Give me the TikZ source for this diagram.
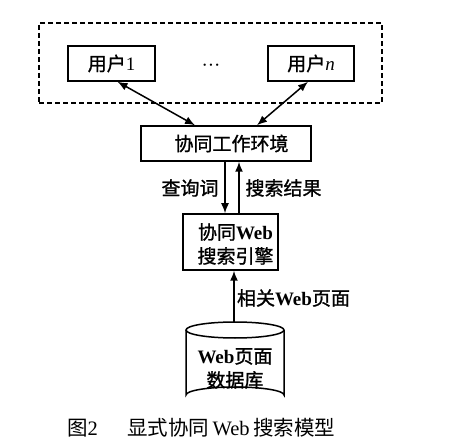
\documentclass[tikz,border=0pt]{standalone}
\usepackage{fontspec}
\setmainfont{Liberation Serif}
\newfontfamily\cjk{Noto Sans CJK SC}
\newfontfamily\cjkb[FakeBold=1.2]{Noto Sans CJK SC}
\newcommand{\zh}[1]{{\cjkb #1}}
\newcommand{\zhc}[1]{{\cjk #1}}
\usetikzlibrary{arrows.meta}
\begin{document}
\begin{tikzpicture}[x=1pt,y=-1pt,
  box/.style={draw,line width=1.5pt,inner sep=0pt},
  lab/.style={font=\fontsize{19pt}{24pt}\selectfont,inner sep=0pt,align=center},
  arr/.style={line width=1.5pt,-{Latex[length=10pt,width=8pt]}},
  darr/.style={line width=1.5pt,{Latex[length=10pt,width=8pt]}-{Latex[length=10pt,width=8pt]}}]
\useasboundingbox (0,0) rectangle (452,443);
% group
\node[draw,line width=1.4pt,dash pattern=on 5pt off 3pt,minimum width=343pt,minimum height=80pt,inner sep=0pt] (grp) at (210.5,63) {};
\node[box,lab,minimum width=87pt,minimum height=35pt] (u1) at (111.5,63.5) {\zh{用户}1};
\node[box,lab,minimum width=86pt,minimum height=35pt] (un) at (311,63.5) {\zh{用户}\textit{n}};
\node[lab,anchor=base] (dots) at (211,72) {\textperiodcentered\textperiodcentered\textperiodcentered};
\node[box,lab,minimum width=170pt,minimum height=35pt] (env) at (226,143.5) {\hspace*{11pt}\zh{协同工作环境}};
\node[box,minimum width=95pt,minimum height=56pt] (eng) at (230.5,242) {};
\node[lab] (engtxt) at (235.5,244) {\zh{协同}\textbf{Web}\\\zh{搜索引擎}};
% database cylinder
\coordinate (dbtop) at (235,322);
\draw[line width=1.5pt,fill=white] (186,330) -- (186,395) arc[start angle=180,end angle=360,x radius=49,y radius=8] -- (284,330);
\draw[line width=1.5pt] (235,330) ellipse[x radius=49,y radius=8];
\node[lab] (db) at (235,368.5) {\textbf{Web}\zh{页面}\\\zh{数据库}};
% connectors
\draw[darr] ([xshift=6pt]u1.south) -- ([xshift=-31pt]env.north);
\draw[darr] ([xshift=-3pt]un.south) -- ([xshift=31pt]env.north);
\coordinate (qx) at (225,0);
\coordinate (rx) at (239,0);
\coordinate (wx) at (234,0);
\draw[arr] (env.south -| qx) -- (eng.north -| qx);
\draw[arr] (eng.north -| rx) -- (env.south -| rx);
\draw[arr] (dbtop -| wx) -- (eng.south -| wx);
\node[lab] (q) at (190,188) {\zh{查询词}};
\node[lab] (r) at (283.5,188) {\zh{搜索结果}};
\node[lab] (p) at (293.5,298) {\zh{相关}\textbf{Web}\zh{页面}};
% caption
\node[font=\fontsize{20.5pt}{24pt}\selectfont,inner sep=0pt,anchor=west] (cap1) at (67,428) {\zhc{图}2};
\node[font=\fontsize{20.5pt}{24pt}\selectfont,inner sep=0pt,anchor=west] (cap2) at (127,428) {\zhc{显式协同}\,Web\,\zhc{搜索模型}};
\end{tikzpicture}
\end{document}
